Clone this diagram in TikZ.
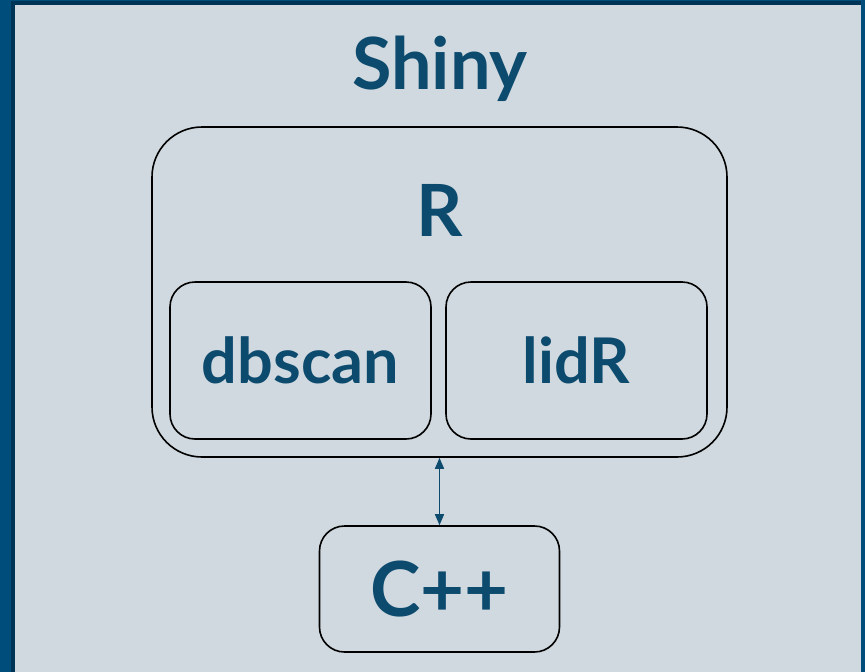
\documentclass[tikz,border=0pt]{standalone}
\usepackage{fontspec}
\setmainfont{Lato}
\usetikzlibrary{arrows.meta}
\definecolor{framecol}{RGB}{0,76,122}
\definecolor{shadowcol}{RGB}{0,52,86}
\definecolor{panelcol}{RGB}{208,217,223}
\definecolor{textcol}{RGB}{12,74,110}
\tikzset{
  box/.style={draw=black, line width=1.6pt, rounded corners=25pt, inner sep=0pt, text=textcol},
  bigtext/.style={font=\bfseries\fontsize{72}{86}\selectfont, text=textcol},
  midtext/.style={font=\bfseries\fontsize{63}{75}\selectfont},
  cpptext/.style={font=\bfseries\fontsize{76}{90}\selectfont},
  link/.style={draw=textcol, line width=1.6pt, {Triangle[length=11pt,width=9pt]}-{Triangle[length=11pt,width=9pt]}}
}
\begin{document}
\begin{tikzpicture}[x=1pt,y=-1pt]
\useasboundingbox (0,0) rectangle (865,672);
\fill[framecol] (0,0) rectangle (865,672);
\fill[shadowcol] (11,1) rectangle (861,672);
\fill[panelcol] (15,5) rectangle (861,672);
\node[bigtext] (shiny) at (440,69) {Shiny};
\node[box, rounded corners=50pt, minimum width=575pt, minimum height=330pt] (R) at (439.5,292) {};
\node[bigtext] (rlabel) at (439.5,210) {R};
\node[box, midtext, minimum width=261pt, minimum height=157pt] (dbscan) at (300.5,360.5) {dbscan};
\node[box, midtext, minimum width=261pt, minimum height=157pt] (lidr) at (576.5,360.5) {lidR};
\node[box, cpptext, minimum width=240pt, minimum height=126pt] (cpp) at (439.5,589) {C++};
\draw[link] (R.south) -- (cpp.north);
\end{tikzpicture}
\end{document}
